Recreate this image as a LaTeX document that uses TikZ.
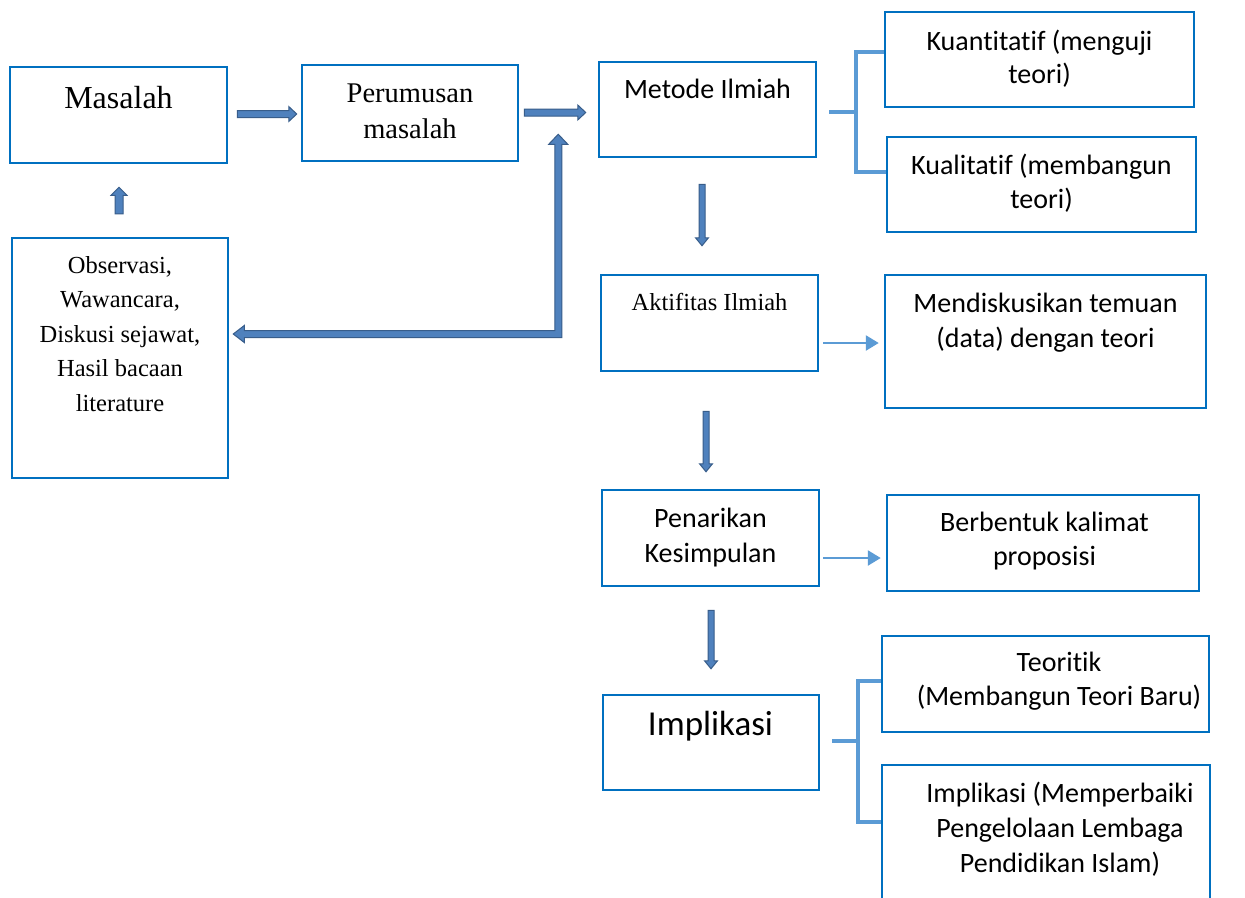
\documentclass[tikz,border=0pt]{standalone}
\usepackage{fontspec}
\usetikzlibrary{calc,arrows.meta}
\newfontfamily\calib[Ligatures=NoCommon]{Carlito}
\newfontfamily\cambr{Liberation Serif}
\definecolor{boxblue}{HTML}{0070C0}
\definecolor{lightblue}{HTML}{5B9BD5}
\definecolor{arrfill}{HTML}{4F81BD}
\definecolor{arrline}{HTML}{385D8A}
\tikzset{
  boxnode/.style={draw=boxblue, line width=2.5pt, rectangle, inner sep=0pt},
  txt/.style={inner sep=0pt, align=center, text=black},
  calibtxt/.style={txt, font=\calib\fontsize{28pt}{34pt}\selectfont},
  brk/.style={draw=lightblue, line width=4pt},
  lightarr/.style={draw=lightblue, line width=2.5pt, -{Triangle[length=13pt,width=15pt]}},
  blockarr/.style={fill=arrfill, draw=arrline, line width=1pt, line join=miter},
}
% #1 start, #2 tip, #3 half shaft width, #4 half head width, #5 head length
\newcommand\blockarrow[5]{%
  \coordinate (bah) at ($(#2)!#5!(#1)$);
  \filldraw[blockarr] ($(#1)!#3!90:(#2)$) -- ($(bah)!#3!-90:(#1)$) -- ($(bah)!#4!-90:(#1)$) -- (#2)
    -- ($(bah)!#4!90:(#1)$) -- ($(bah)!#3!90:(#1)$) -- ($(#1)!#3!-90:(#2)$) -- cycle;}
\begin{document}
\begin{tikzpicture}[x=1pt,y=-1pt]
\clip (0,0) rectangle (1245,897);
\fill[white] (0,0) rectangle (1245,897);

% boxes
\node[boxnode, minimum width=217pt, minimum height=96pt] (masalah) at (118.5,115) {};
\node[boxnode, minimum width=216pt, minimum height=96pt] (perumusan) at (410,113) {};
\node[boxnode, minimum width=216pt, minimum height=240pt] (obs) at (120,358) {};
\node[boxnode, minimum width=217pt, minimum height=95pt] (metode) at (707.5,109.5) {};
\node[boxnode, minimum width=309pt, minimum height=95pt] (kuant) at (1039.5,59.5) {};
\node[boxnode, minimum width=309pt, minimum height=95pt] (kual) at (1041.5,184.5) {};
\node[boxnode, minimum width=217pt, minimum height=96pt] (aktif) at (709.5,323) {};
\node[boxnode, minimum width=321pt, minimum height=133pt] (mendisk) at (1045.5,341.5) {};
\node[boxnode, minimum width=217pt, minimum height=96pt] (penarikan) at (710.5,538) {};
\node[boxnode, minimum width=312pt, minimum height=96pt] (berbentuk) at (1043,543) {};
\node[boxnode, minimum width=216pt, minimum height=95pt] (implikasi) at (711,742.5) {};
\node[boxnode, minimum width=327pt, minimum height=96pt] (teoritik) at (1045.5,684) {};
\node[boxnode, minimum width=328pt, minimum height=145pt] (impl2) at (1046,837.5) {};

% texts
\node[txt, font=\cambr\fontsize{32pt}{38pt}\selectfont] (masalah-t) at (118.5,100.4) {Masalah\strut};
\node[txt, font=\cambr\fontsize{28.5pt}{36pt}\selectfont] (perumusan-t) at (410,112.8) {Perumusan\strut\\masalah\strut};
\node[txt, font=\cambr\fontsize{24.5pt}{34.5pt}\selectfont] (obs-t) at (120,335.1)
  {Observasi,\strut\\Wawancara,\strut\\Diskusi sejawat,\strut\\Hasil bacaan\strut\\literature\strut};
\node[calibtxt] (metode-t) at (707.5,91.2) {Metode Ilmiah\strut};
\node[txt, font=\calib\fontsize{28pt}{33pt}\selectfont] (kuant-t) at (1039.5,59.9) {Kuantitatif (menguji\strut\\teori)\strut};
\node[calibtxt] (kual-t) at (1041.5,184.2) {Kualitatif (membangun\strut\\teori)\strut};
\node[txt, font=\cambr\fontsize{24.5pt}{30pt}\selectfont] (aktif-t) at (709.5,304) {Aktifitas Ilmiah\strut};
\node[txt, font=\calib\fontsize{28pt}{35pt}\selectfont] (mendisk-t) at (1045.5,322.5) {Mendiskusikan temuan\strut\\(data) dengan teori\strut};
\node[txt, font=\calib\fontsize{28pt}{35pt}\selectfont] (penarikan-t) at (710.5,537.5) {Penarikan\strut\\Kesimpulan\strut};
\node[calibtxt] (berbentuk-t) at (1044.5,541.2) {Berbentuk kalimat\strut\\proposisi\strut};
\node[txt, font=\calib\fontsize{35pt}{43pt}\selectfont] (implikasi-t) at (710.5,726.4) {Implikasi\strut};
\node[calibtxt] (teoritik-t) at (1059,681.2) {Teoritik\strut\\(Membangun Teori Baru)\strut};
\node[txt, font=\calib\fontsize{28pt}{35pt}\selectfont] (impl2-t) at (1060,830)
  {Implikasi (Memperbaiki\strut\\Pengelolaan Lembaga\strut\\Pendidikan Islam)\strut};

% block arrows
\coordinate (a1s) at ($(masalah.east)+(9,-1)$);
\coordinate (a1t) at ($(a1s -| perumusan.west)+(-4,0)$);
\blockarrow{a1s}{a1t}{3.5pt}{7.5pt}{8pt}
\coordinate (a2s) at ($(perumusan.east)+(5,-0.5)$);
\coordinate (a2t) at ($(a2s -| metode.west)+(-12,0)$);
\blockarrow{a2s}{a2t}{3.5pt}{7.5pt}{8pt}
\coordinate (ups) at ($(obs.north)+(-1,-23)$);
\coordinate (upt) at ($(ups |- masalah.south)+(0,23)$);
\blockarrow{ups}{upt}{4pt}{8pt}{8pt}
\coordinate (d1s) at ($(metode.south)+(-5.5,26)$);
\coordinate (d1t) at ($(d1s |- aktif.north)+(0,-28)$);
\blockarrow{d1s}{d1t}{3pt}{6.5pt}{8pt}
\coordinate (d2s) at ($(aktif.south)+(-3.5,39)$);
\coordinate (d2t) at ($(d2s |- penarikan.north)+(0,-17)$);
\blockarrow{d2s}{d2t}{3pt}{6.5pt}{8pt}
\coordinate (d3s) at ($(penarikan.south)+(0.5,23)$);
\coordinate (d3t) at ($(d3s |- implikasi.north)+(0,-25)$);
\blockarrow{d3s}{d3t}{3pt}{6.5pt}{8pt}

% elbow double-headed arrow
\coordinate (elL) at ($(obs.east)+(4,-24)$);
\coordinate (elT) at ($(perumusan.south east)+(39,-28)$);
\filldraw[blockarr] let \p1=(elL), \p2=(elT) in
  (\x1,\y1) -- ({\x1+11pt},{\y1+8.5pt}) -- ({\x1+11pt},{\y1+3.5pt}) -- ({\x2-3.5pt},{\y1+3.5pt})
  -- ({\x2-3.5pt},{\y2-10pt}) -- ({\x2-9.5pt},{\y2-10pt}) -- (\x2,\y2) -- ({\x2+9.5pt},{\y2-10pt})
  -- ({\x2+3.5pt},{\y2-10pt}) -- ({\x2+3.5pt},{\y1-3.5pt}) -- ({\x1+11pt},{\y1-3.5pt})
  -- ({\x1+11pt},{\y1-8.5pt}) -- cycle;

% light arrows
\coordinate (l1s) at ($(aktif.east)+(4,20)$);
\draw[lightarr] (l1s) -- ($(l1s -| mendisk.west)+(-5,0)$);
\coordinate (l2s) at ($(penarikan.east)+(3,20)$);
\draw[lightarr] (l2s) -- ($(l2s -| berbentuk.west)+(-5,0)$);

% brackets
\coordinate (bk1) at ($(metode.east)+(39,2.5)$);
\draw[brk] ($(metode.east)+(12,2.5)$) -- (bk1);
\draw[brk] ($(kuant.west)+(0,-7.5)$) -| (bk1) |- ($(kual.west)+(0,-12.5)$);
\coordinate (bk2) at ($(implikasi.east)+(38,-1.5)$);
\draw[brk] ($(implikasi.east)+(12,-1.5)$) -- (bk2);
\draw[brk] ($(teoritik.west)+(0,-3)$) -| (bk2) |- ($(impl2.west)+(0,-15.5)$);
\end{tikzpicture}
\end{document}
